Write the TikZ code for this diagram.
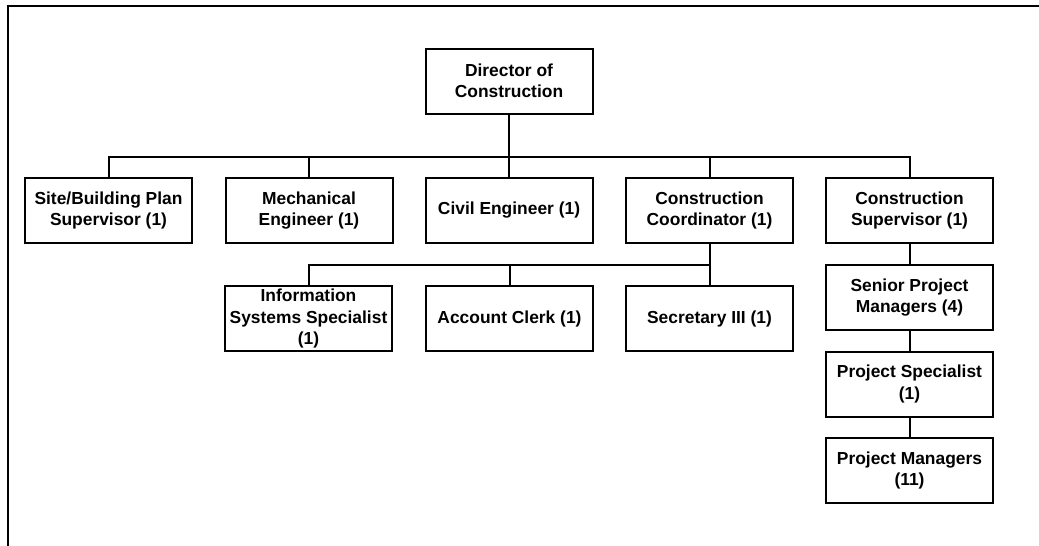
\documentclass[tikz,border=0pt]{standalone}
\usepackage{fontspec}
\setmainfont{Liberation Sans}
\begin{document}
\begin{tikzpicture}[x=1pt,y=-1pt,
  unit/.style={draw,line width=2pt,minimum width=167pt,minimum height=65pt,
    inner sep=0pt,align=center,font=\bfseries\fontsize{17.4}{21.5}\selectfont},
  link/.style={line width=2pt}]
  % canvas and outer frame (top and left edges only)
  \useasboundingbox (0,0) rectangle (1039,546);
  \draw[line width=2pt] (8,546) -- (8,6) -- (1039,6);

  % top
  \node[unit] (dir) at (509,81) {Director of\\Construction};

  % first level
  \node[unit] (site) at (108.5,210.5) {Site/Building Plan\\Supervisor (1)};
  \node[unit] (mech) at (309,210.5) {Mechanical\\Engineer (1)};
  \node[unit] (civil) at (509,210.5) {Civil Engineer (1)};
  \node[unit] (coord) at (709.5,210.5) {Construction\\Coordinator (1)};
  \node[unit] (super) at (909.5,210.5) {Construction\\Supervisor (1)};

  % staff under the coordinator
  \node[unit] (info) at (308.5,318.5) {Information\\Systems Specialist\\(1)};
  \node[unit] (clerk) at (509.5,318.5) {Account Clerk (1)};
  \node[unit] (sec) at (709.5,318.5) {Secretary III (1)};

  % chain under the supervisor
  \node[unit] (senior) at (909.5,297.5) {Senior Project\\Managers (4)};
  \node[unit] (spec) at (909.5,384) {Project Specialist\\(1)};
  \node[unit] (pm) at (909.5,470.5) {Project Managers\\(11)};

  % bus lines
  \coordinate (b1) at (509,157);
  \coordinate (b2) at (709.5,265);

  \draw[link] (dir.south) -- (b1);
  \foreach \n in {site,mech,civil,coord,super}
    \draw[link] (\n.north) |- (b1);

  \draw[link] (coord.south) -- (b2);
  \foreach \n in {info,clerk,sec}
    \draw[link] (\n.north) |- (b2);

  \draw[link] (super.south) -- (senior.north);
  \draw[link] (senior.south) -- (spec.north);
  \draw[link] (spec.south) -- (pm.north);
\end{tikzpicture}
\end{document}
